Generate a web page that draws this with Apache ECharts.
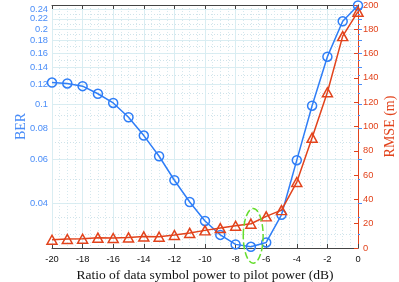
<!DOCTYPE html>
<html><head><meta charset="utf-8">
<script src="https://cdn.jsdelivr.net/npm/echarts@6/dist/echarts.min.js"></script>
<style>html,body{margin:0;padding:0;background:#fff}#c{width:399px;height:282px}</style>
</head><body><div id="c"></div>
<script>
const snrDb = [-20,-19,-18,-17,-16,-15,-14,-13,-12,-11,-10,-9,-8,-7,-6,-5,-4,-3,-2,-1,0];
const ber = [0.122,0.121,0.118,0.110,0.101,0.0885,0.0747,0.0617,0.0494,0.0404,0.0339,0.0298,0.0273,0.0267,0.0278,0.0359,0.0595,0.0985,0.155,0.215,0.249];
const rmse = [6.8,7.4,7.6,8.5,8.2,8.7,9.5,9.3,10.7,12.4,14.5,16.4,18.3,20.0,26.0,31.2,54.3,90.8,128.2,174.4,194.5];
const xTicks = [-20,-18,-16,-14,-12,-10,-8,-6,-4,-2,0];
const berTicks = [0.04,0.06,0.08,0.1,0.12,0.14,0.16,0.18,0.2,0.22,0.24];
const berMinorTicks = [0.03,0.035,0.05,0.07,0.09,0.11,0.13,0.15,0.17,0.19,0.21,0.23];
const rmseTicks = [0,20,40,60,80,100,120,140,160,180,200];
const ellipseCenter = [-6.85, 10];
const ellipseHalf = [0.65, 22.5];

const BLUE = '#2f7ef7', BLUE_T = '#4a8df8', RED = '#e2431c';
const serif = '"Liberation Serif", "Times New Roman", serif';
const sans = '"Liberation Sans", Arial, sans-serif';
const chart = echarts.init(document.getElementById('c'), null, {renderer:'canvas'});
const gridSolid = {show:true, lineStyle:{color:'#d9edf2', width:1}};
const gridDot = {show:true, lineStyle:{color:'#cfe3ea', width:1, type:[1,2]}};
chart.setOption({
  animation:false,
  grid:{left:52, right:41, top:5, bottom:34, containLabel:false, outerBoundsMode:'none'},
  xAxis:[{
    type:'value', min:-20, max:0, interval:2, position:'bottom',
    name:'Ratio of data symbol power to pilot power (dB)', nameLocation:'middle', nameGap:19,
    nameTextStyle:{fontFamily:serif, fontSize:13.5, color:'#111'},
    axisLine:{show:true, lineStyle:{color:'#444', width:1}},
    axisTick:{show:true, inside:true, length:4, lineStyle:{color:'#444'}},
    axisLabel:{show:true, fontFamily:sans, fontSize:9.3, color:'#111', margin:7, customValues:xTicks},
    splitLine:gridSolid,
    minorTick:{show:false, splitNumber:4},
    minorSplitLine:{show:true, lineStyle:{color:'#d5e8ee', width:1, type:[1,2]}}
  },{
    type:'value', min:-20, max:0, interval:2, position:'top',
    axisLine:{show:true, lineStyle:{color:'#444', width:1}},
    axisTick:{show:true, inside:true, length:4, lineStyle:{color:'#444'}},
    axisLabel:{show:false}, splitLine:{show:false}
  }],
  yAxis:[{
    type:'log', logBase:10, min:0.0264, max:0.25, position:'left',
    name:'BER', nameLocation:'middle', nameGap:24, nameRotate:90, nameMoveOverlap:false,
    nameTextStyle:{fontFamily:serif, fontSize:14, color:BLUE_T},
    axisLine:{show:true, lineStyle:{color:BLUE_T, width:1}},
    axisTick:{show:true, inside:true, length:4, customValues:berTicks, lineStyle:{color:BLUE_T}},
    axisLabel:{show:true, fontFamily:sans, fontSize:9.3, color:BLUE_T, margin:4, customValues:berTicks,
      formatter:v=>String(+(+v).toFixed(3))},
    splitLine:gridSolid
  },{
    type:'log', logBase:10, min:0.0264, max:0.25, position:'left',
    axisLine:{show:false},
    axisTick:{show:true, inside:true, length:2, customValues:berMinorTicks, lineStyle:{color:BLUE_T}},
    axisLabel:{show:false, customValues:berMinorTicks},
    splitLine:gridDot
  },{
    type:'value', min:0, max:200, interval:20, position:'right',
    name:'RMSE (m)', nameLocation:'middle', nameGap:25, nameRotate:90, nameMoveOverlap:false,
    nameTextStyle:{fontFamily:serif, fontSize:14, color:RED},
    axisLine:{show:true, lineStyle:{color:RED, width:1}},
    axisTick:{show:true, inside:true, length:4, lineStyle:{color:RED}},
    axisLabel:{show:true, fontFamily:sans, fontSize:9.3, color:RED, margin:5, customValues:rmseTicks},
    splitLine:{show:false}
  }],
  series:[{
    type:'line', name:'BER', xAxisIndex:0, yAxisIndex:0, clip:false,
    data:snrDb.map((x,i)=>[x, ber[i]]),
    symbol:'circle', symbolSize:9,
    lineStyle:{color:BLUE, width:1.5},
    itemStyle:{color:'rgba(255,255,255,0)', borderColor:BLUE, borderWidth:1.5},
    z:3
  },{
    type:'line', name:'RMSE', xAxisIndex:0, yAxisIndex:2, clip:false,
    data:snrDb.map((x,i)=>[x, rmse[i]]),
    symbol:'triangle', symbolSize:[10,9],
    lineStyle:{color:RED, width:1.5},
    itemStyle:{color:'rgba(255,255,255,0)', borderColor:RED, borderWidth:1.5},
    z:4
  }]
});
const c = chart.convertToPixel({xAxisIndex:0, yAxisIndex:2}, ellipseCenter);
const e = chart.convertToPixel({xAxisIndex:0, yAxisIndex:2}, [ellipseCenter[0]+ellipseHalf[0], ellipseCenter[1]+ellipseHalf[1]]);
chart.setOption({graphic:[{
  type:'ellipse', z:100,
  shape:{cx:c[0], cy:c[1], rx:Math.abs(e[0]-c[0]), ry:Math.abs(e[1]-c[1])},
  style:{fill:'none', stroke:'#66dd2e', lineWidth:1.5, lineDash:[7,3]}
}]});
</script>
</body></html>
